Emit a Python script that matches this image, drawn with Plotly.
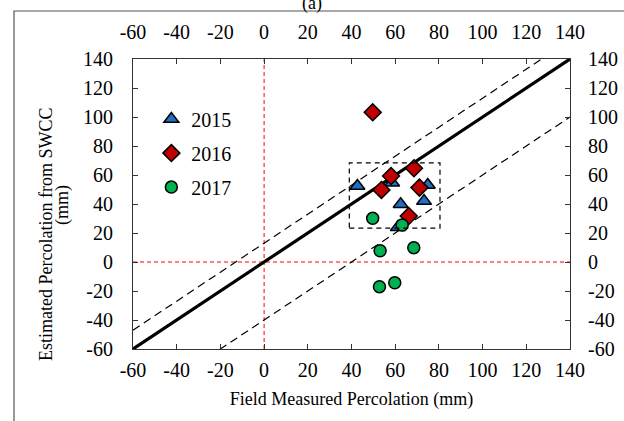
import plotly.graph_objects as go

# Field measured vs. estimated percolation (mm)
x_2015 = [42.7, 58.6, 74.9, 62.5, 73.2, 61.2]
y_2015 = [52.4, 54.7, 53.1, 39.8, 42.0, 23.9]

x_2016 = [49.7, 58.1, 53.7, 68.6, 71.1, 66.2]
y_2016 = [103.2, 59.3, 49.7, 64.6, 51.3, 31.7]

x_2017 = [49.7, 63.2, 53.1, 68.5, 52.8, 59.8]
y_2017 = [30.1, 25.5, 7.8, 9.9, -17.0, -14.3]

axis_ticks = [-60, -40, -20, 0, 20, 40, 60, 80, 100, 120, 140]
axis_ticktext = ["-60", "-40", "-20", "0", "20", "40", "60", "80", "100", "120", "140"]
axis_range = [-60, 140]

# reference lines: 1:1 line and upper / lower bounds
line_x = [-60, 140]
upper_offset = 13
lower_offset = -40

# highlighted region of the data cluster
box_x = [39, 80.5]
box_y = [23.4, 68.3]

FONT = "Liberation Serif, Times New Roman, serif"
fig = go.Figure()

fig.add_trace(go.Scatter(x=line_x, y=line_x, mode="lines",
                         line=dict(color="black", width=3.2), showlegend=False, hoverinfo="skip"))
fig.add_trace(go.Scatter(x=line_x, y=[v + upper_offset for v in line_x], mode="lines",
                         line=dict(color="black", width=1.2, dash="8px,5px"), showlegend=False, hoverinfo="skip"))
fig.add_trace(go.Scatter(x=line_x, y=[v + lower_offset for v in line_x], mode="lines",
                         line=dict(color="black", width=1.2, dash="8px,5px"), showlegend=False, hoverinfo="skip"))

marker_line = dict(color="black", width=1.5)
fig.add_trace(go.Scatter(x=x_2015, y=y_2015, mode="markers", name="2015", legendgroup="a",
                         marker=dict(symbol="triangle-up", size=13, color="#1f6fc5", line=marker_line)))
fig.add_trace(go.Scatter(x=x_2016, y=y_2016, mode="markers", name="2016", legendgroup="b",
                         marker=dict(symbol="diamond", size=13, color="#c00000", line=marker_line)))
fig.add_trace(go.Scatter(x=x_2017, y=y_2017, mode="markers", name="2017", legendgroup="c",
                         marker=dict(symbol="circle", size=12, color="#00b050", line=marker_line)))

# secondary axes carrying the top and right tick labels
fig.add_trace(go.Scatter(x=axis_range, y=axis_range, xaxis="x2", yaxis="y2", mode="markers",
                         marker=dict(opacity=0), showlegend=False, hoverinfo="skip"))

# zero lines
fig.add_shape(type="line", x0=0, x1=0, y0=axis_range[0], y1=axis_range[1], xref="x", yref="y",
              line=dict(color="red", width=1, dash="4px,3px"), layer="below")
fig.add_shape(type="line", x0=axis_range[0], x1=axis_range[1], y0=0, y1=0, xref="x", yref="y",
              line=dict(color="red", width=1, dash="4px,3px"), layer="below")
fig.add_shape(type="rect", x0=box_x[0], x1=box_x[1], y0=box_y[0], y1=box_y[1], xref="x", yref="y",
              line=dict(color="black", width=1.2, dash="5px,4px"))
# outer frame
fig.add_shape(type="rect", x0=-0.2723, x1=1.15, y0=-0.3, y1=1.1655, xref="paper", yref="paper",
              line=dict(color="#555", width=1.2))

common = dict(range=axis_range, tickvals=axis_ticks, ticktext=axis_ticktext, ticks="inside",
              ticklen=5, tickwidth=1, tickcolor="#333", showgrid=False, zeroline=False,
              showline=True, linecolor="#333", linewidth=1, automargin=False,
              tickfont=dict(family=FONT, size=20, color="black"))

fig.update_layout(
    width=624, height=421,
    margin=dict(l=133, r=54, t=59, b=72),
    paper_bgcolor="white", plot_bgcolor="white",
    font=dict(family=FONT, size=18, color="black"),
    xaxis=dict(**common, mirror=True, ticklabelstandoff=3,
               title=dict(text="Field Measured Percolation (mm)", font=dict(family=FONT, size=18), standoff=12)),
    yaxis=dict(**common, mirror=True, ticklabelstandoff=15),
    xaxis2=dict(**common, overlaying="x", side="top", anchor="y", ticklabelstandoff=11),
    yaxis2=dict(**common, overlaying="y", side="right", anchor="x", ticklabelstandoff=13),
    legend=dict(x=0.042, y=0.86, xanchor="left", yanchor="top", bgcolor="rgba(0,0,0,0)",
                font=dict(family=FONT, size=20), itemwidth=30, tracegroupgap=5),
    annotations=[
        dict(text="Estimated Percolation from SWCC", textangle=-90, x=46, y=235,
             xref="paper", yref="paper", xanchor="center", yanchor="middle",
             showarrow=False, font=dict(family=FONT, size=18)),
        dict(text="(mm)", textangle=-90, x=62, y=205,
             xref="paper", yref="paper", xanchor="center", yanchor="middle",
             showarrow=False, font=dict(family=FONT, size=18)),
        dict(text="(a)", x=0.41, y=1.235, xref="paper", yref="paper", showarrow=False,
             font=dict(family=FONT, size=18)),
    ],
)

# convert pixel positions of the rotated y-title lines to paper coordinates
PLOT_L, PLOT_W, PLOT_B, PLOT_H = 133, 437, 349, 290
for ann in fig.layout.annotations[:2]:
    ann.x = (ann.x - PLOT_L) / PLOT_W
    ann.y = (PLOT_B - ann.y) / PLOT_H

fig.write_html("out.html")
